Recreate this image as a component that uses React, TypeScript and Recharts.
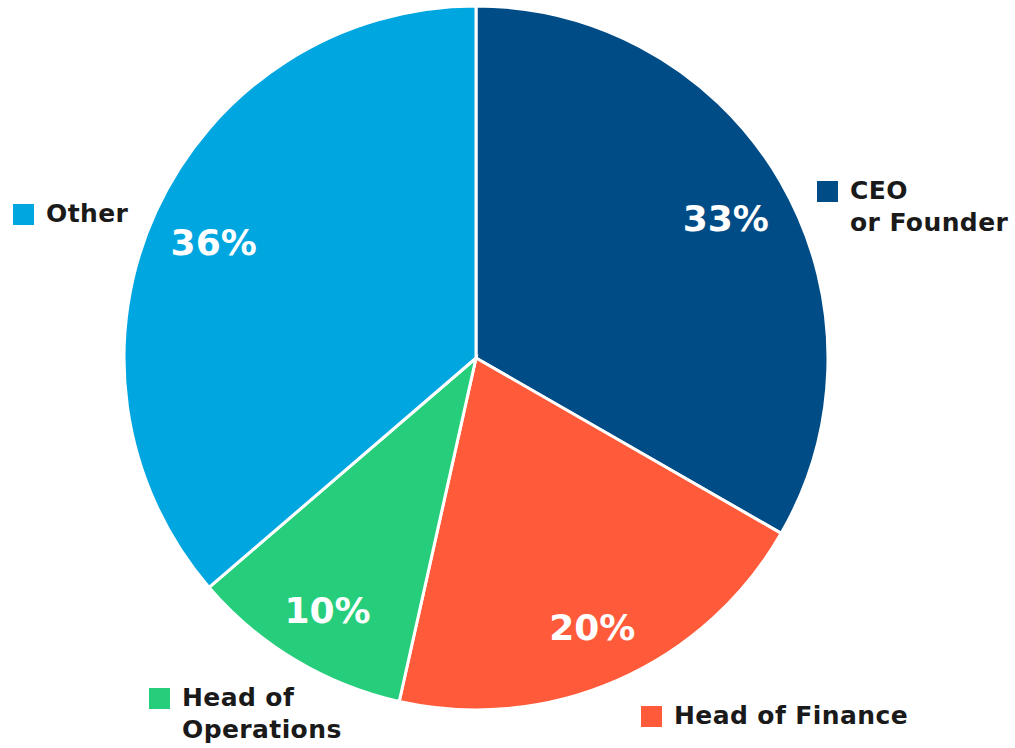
import React from 'react';
import { PieChart, Pie, Cell } from 'recharts';

const roles = ['CEO or Founder', 'Head of Finance', 'Head of Operations', 'Other'];
const shares = [33.3, 20.2, 10.2, 36.3];
const shareLabels = ['33%', '20%', '10%', '36%'];
const colors = ['#004C87', '#FF5A3A', '#26CE7C', '#00A6DF'];

// legend text split in lines as in the reference
const legendLines = [['CEO', 'or Founder'], ['Head of Finance'], ['Head of', 'Operations'], ['Other']];
const legendPos = [
  { x: 817, y: 175 },
  { x: 641, y: 700 },
  { x: 149, y: 682 },
  { x: 13, y: 198 },
];

const data = roles.map((name, i) => ({ name, value: shares[i], label: shareLabels[i] }));

const FONT = '"DejaVu Sans", sans-serif';
const RAD = Math.PI / 180;

const renderLabel = (props: any) => {
  const { cx, cy, midAngle, outerRadius, index } = props;
  const r = outerRadius * 0.82;
  const x = cx + r * Math.cos(-midAngle * RAD);
  const y = cy + r * Math.sin(-midAngle * RAD) + 5;
  return (
    <text x={x} y={y} fill="#fff" textAnchor="middle" dominantBaseline="central"
      style={{ fontFamily: FONT, fontWeight: 700, fontSize: 36 }}>
      {shareLabels[index]}
    </text>
  );
};

const App: React.FC = () => {
  return (
    <div style={{ position: 'absolute', left: 0, top: 0, width: 1015, height: 748, background: '#fff' }}>
      <PieChart width={1015} height={748} margin={{ top: 0, right: 0, bottom: 0, left: 0 }}>
        <Pie
          data={data}
          dataKey="value"
          nameKey="name"
          cx={476}
          cy={358}
          outerRadius={352}
          startAngle={90}
          endAngle={-270}
          stroke="#fff"
          strokeWidth={3}
          label={renderLabel}
          labelLine={false}
          isAnimationActive={false}
        >
          {data.map((d, i) => (
            <Cell key={d.name} fill={colors[i]} />
          ))}
        </Pie>
      </PieChart>
      {legendLines.map((lines, i) => (
        <div key={roles[i]} style={{ position: 'absolute', left: legendPos[i].x, top: legendPos[i].y, display: 'flex', alignItems: 'flex-start' }}>
          <div style={{ width: 21, height: 21, background: colors[i], marginTop: 6, marginRight: 12 }} />
          <div style={{ fontFamily: FONT, fontWeight: 700, fontSize: 25, letterSpacing: 0.4, lineHeight: '32px', color: '#1a1a1a' }}>
            {lines.map(l => <div key={l}>{l}</div>)}
          </div>
        </div>
      ))}
    </div>
  );
};

export default App;
